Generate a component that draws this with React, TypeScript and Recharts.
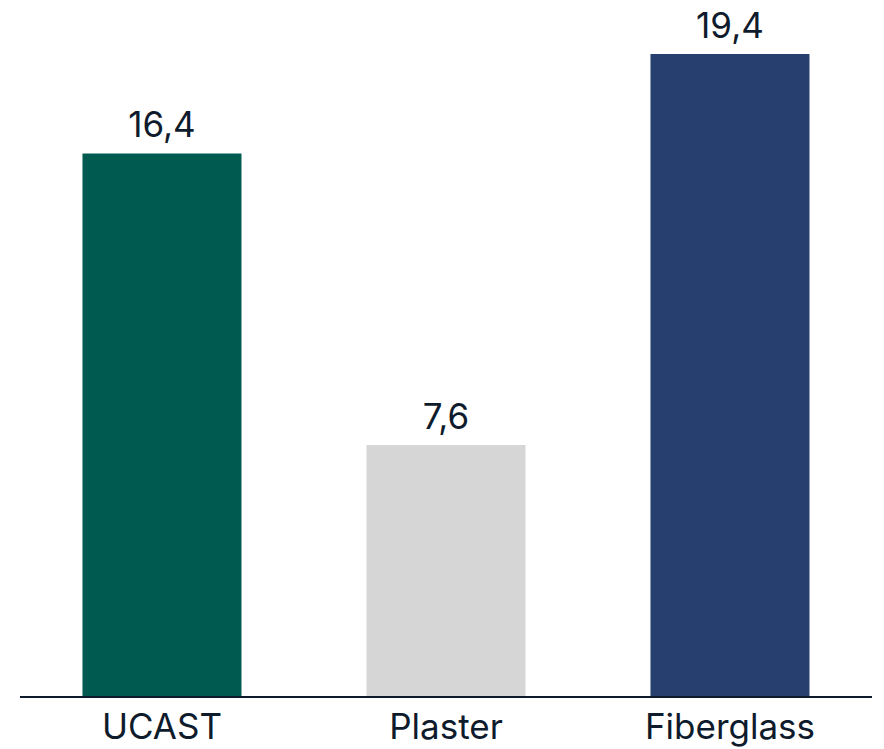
import { BarChart, Bar, XAxis, YAxis, Cell, LabelList } from 'recharts';

const categories = ['UCAST', 'Plaster', 'Fiberglass'];
const values = [16.4, 7.6, 19.4];
const colors = ['#005a4f', '#d6d6d6', '#273f6e'];

const data = categories.map((name, i) => ({ name, value: values[i] }));

const textColor = '#0e1b2c';
const font = 'Inter, "Open Sans", sans-serif';

const fmt = (v: any) => String(v).replace('.', ',');

const App = () => {
  return (
    <div style={{ width: 876, height: 741, fontFamily: font }}>
      <BarChart
        width={876}
        height={741}
        data={data}
        margin={{ top: 46, right: 12, left: 12, bottom: 3 }}
        barCategoryGap="22%"
        style={{ overflow: 'visible' }}
      >
        <XAxis
          dataKey="name"
          axisLine={{ stroke: textColor, strokeWidth: 2 }}
          tickLine={false}
          tickSize={0}
          tickMargin={17}
          height={49}
          tick={{ fill: textColor, fontSize: 35, fontFamily: font }}
        />
        <YAxis hide domain={[0, 19.4]} />
        <Bar dataKey="value" isAnimationActive={false}>
          {data.map((d, i) => (
            <Cell key={d.name} fill={colors[i]} />
          ))}
          <LabelList
            dataKey="value"
            position="top"
            offset={16}
            formatter={fmt}
            style={{ fill: textColor, fontSize: 35, fontFamily: font }}
          />
        </Bar>
      </BarChart>
    </div>
  );
};

export default App;
